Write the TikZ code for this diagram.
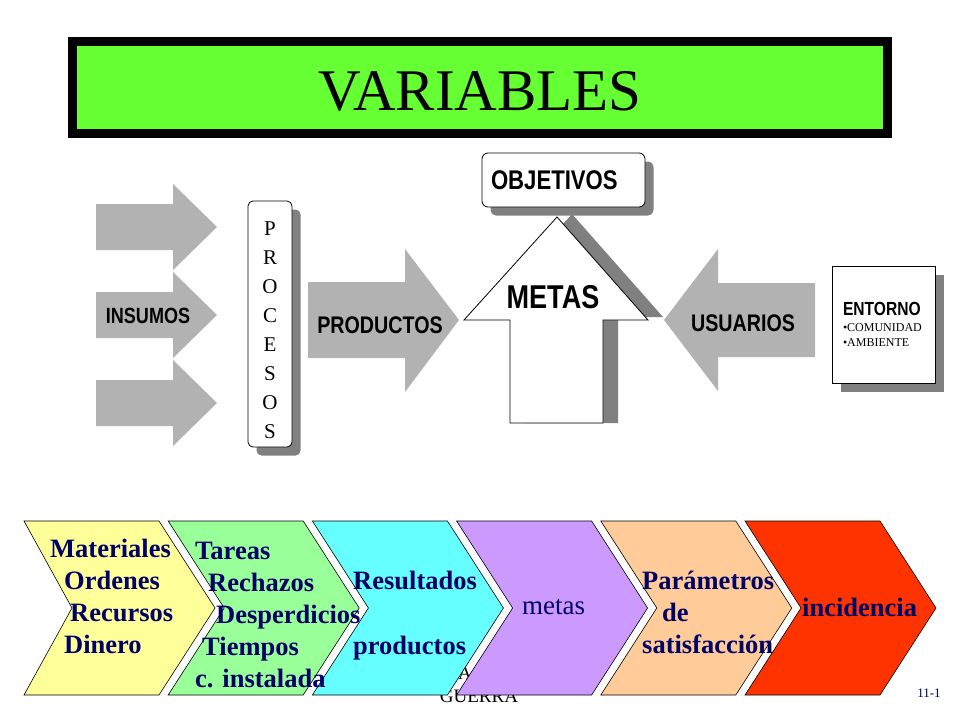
\documentclass[tikz,border=0pt]{standalone}
\usepackage{fontspec}
\setmainfont{Liberation Serif}
\newfontfamily\heavyfont[FakeStretch=0.82]{Liberation Sans}
\usetikzlibrary{shadows}

\definecolor{titlegreen}{RGB}{102,255,51}
\definecolor{arrowgray}{RGB}{178,178,178}
\definecolor{shadowgray}{RGB}{128,128,128}
\definecolor{navytext}{RGB}{0,0,102}
\definecolor{chevyellow}{RGB}{255,255,153}
\definecolor{chevgreen}{RGB}{153,255,153}
\definecolor{chevcyan}{RGB}{102,255,255}
\definecolor{chevpurple}{RGB}{204,153,255}
\definecolor{chevpeach}{RGB}{255,204,153}
\definecolor{chevred}{RGB}{255,51,0}

\tikzset{
  heavylabel/.style={font=\heavyfont\bfseries\fontsize{#1}{#1}\selectfont, inner sep=0pt},
  heavylabel/.default=24,
  shadowbox/.style={draw, line width=0.8pt, fill=white,
    drop shadow={shadow xshift=8.5pt, shadow yshift=-8.5pt, fill=shadowgray, opacity=1}},
  chevtext/.style={font=\bfseries\fontsize{26.5}{32}\selectfont, text=navytext,
    align=left, anchor=base west, inner sep=0pt},
}

\begin{document}
\begin{tikzpicture}[x=1pt,y=-1pt]
\useasboundingbox (0,0) rectangle (960,720);
\fill[white] (0,0) rectangle (960,720);

% footer text, partly hidden by the chevrons
\node[anchor=base, inner sep=0pt, font=\fontsize{19}{19}\selectfont] (authorA) at (465,679) {A};
\node[anchor=base, inner sep=0pt, font=\fontsize{19}{19}\selectfont] (authorB) at (479,702) {GUERRA};

% title
\node[draw=black, line width=9pt, fill=titlegreen, minimum width=815pt, minimum height=92pt,
  inner sep=0pt, text height=45pt, text depth=0pt, font=\fontsize{59}{59}\selectfont] (title) at (480,87.5) {VARIABLES};

% insumos
\foreach \y in {227,315,403}
  \fill[arrowgray] (96,\y-23) -- (173,\y-23) -- (173,\y-43) -- (217,\y)
    -- (173,\y+43) -- (173,\y+23) -- (96,\y+23) -- cycle;
\node[heavylabel=22] (insumos) at (148,316) {INSUMOS};

% procesos
\node[shadowbox, rounded corners=5pt, minimum width=44pt, minimum height=246pt] (procesos) at (270,324) {};
\node[align=center, inner sep=0pt, yshift=-6pt, font=\fontsize{21}{29}\selectfont] (procesosText) at (procesos) {P\\R\\O\\C\\E\\S\\O\\S};

% productos
\fill[arrowgray] (308,282) -- (405,282) -- (405,249) -- (459,320) -- (405,392) -- (405,358) -- (308,358) -- cycle;
\node[heavylabel=24] (productos) at (380,325) {PRODUCTOS};

% metas
\fill[shadowgray, shift={(15,-3)}] (557,217) -- (648,320) -- (603,320) -- (603,426) -- (510,426) -- (510,320) -- (464,320) -- cycle;
\draw[fill=white, line width=0.8pt] (557,217) -- (648,320) -- (603,320) -- (603,423) -- (510,423) -- (510,320) -- (464,320) -- cycle;
\node[heavylabel=33] (metas) at (553,297) {METAS};

% objetivos
\node[shadowbox, rounded corners=6pt, minimum width=163pt, minimum height=54pt, text width=145pt,
  align=left, inner xsep=9pt, font=\heavyfont\bfseries\fontsize{27}{27}\selectfont] (objetivos) at (563.5,180) {OBJETIVOS};

% usuarios
\fill[arrowgray] (815,283) -- (718,283) -- (718,249) -- (664,320) -- (718,391) -- (718,357) -- (815,357) -- cycle;
\node[heavylabel=24] (usuarios) at (743,323) {USUARIOS};

% entorno
\node[shadowbox, minimum width=103pt, minimum height=117pt, text width=81pt, align=left,
  inner xsep=11pt, font=\fontsize{12}{15}\selectfont] (entorno) at (883.5,324.5)
  {{\heavyfont\bfseries\fontsize{19}{19}\selectfont ENTORNO}\\[1pt]•COMUNIDAD\\•AMBIENTE};

% chevrons
\foreach \col [count=\i from 0] in {chevyellow,chevgreen,chevcyan,chevpurple,chevpeach,chevred} {
  \pgfmathsetmacro\notch{ifthenelse(\i==0,48,56)}
  \draw[fill=\col, line width=0.6pt] ({24+144.2*\i},521) coordinate (chev\i) -- ++(135,0) -- ++(56,87)
    -- ++(-56,87) -- ++(-135,0) -- ++(\notch,-87) -- cycle;
}
% base anchors sit on the last line
\node[chevtext] (materiales) at (50,653) {Materiales\\\hspace*{14pt}Ordenes\\\hspace*{20pt}Recursos\\\hspace*{14pt}Dinero};
\node[chevtext] (tareas) at (195,687) {Tareas\\\hspace*{13pt}Rechazos\\\hspace*{21pt}Desperdicios\\\hspace*{7pt}Tiempos\\c. instalada};
\node[chevtext] (resultados) at (353,654) {Resultados\\[33pt]productos};
\node[anchor=base west, inner sep=0pt, text=navytext, font=\fontsize{27}{27}\selectfont] (metasLabel) at (522,614) {metas};
\node[chevtext] (parametros) at (642,653) {Parámetros\\\hspace*{20pt}de\\satisfacción};
\node[chevtext] (incidencia) at (802,616) {incidencia};

\node[text=navytext, inner sep=0pt, font=\fontsize{13}{13}\selectfont] (pagenum) at (929,693) {11-1};
\end{tikzpicture}
\end{document}
